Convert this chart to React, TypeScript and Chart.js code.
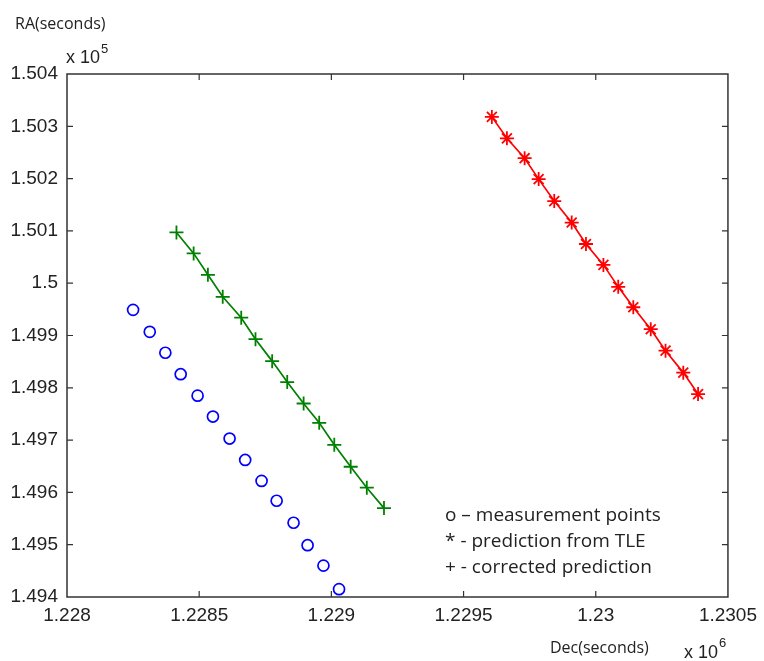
import React, { useEffect, useRef } from "react";
import { Chart, registerables } from "chart.js";

Chart.register(...registerables);

// Data (Dec seconds, RA seconds)
const measDec = [1228250, 1228313, 1228372, 1228430, 1228494, 1228552, 1228615, 1228674, 1228736, 1228793, 1228857, 1228910, 1228970, 1229029];
const measRA = [149949, 149907, 149867, 149826, 149785, 149745, 149703, 149662, 149622, 149584, 149542, 149499, 149460, 149415];

const corrDec = [1228414, 1228479, 1228533, 1228589, 1228659, 1228713, 1228776, 1228833, 1228895, 1228954, 1229011, 1229073, 1229134, 1229199];
const corrRA = [150097, 150057, 150016, 149974, 149934, 149893, 149851, 149811, 149770, 149733, 149691, 149649, 149609, 149570];

const tleDec = [1229607, 1229664, 1229731, 1229784, 1229843, 1229909, 1229963, 1230029, 1230085, 1230142, 1230208, 1230264, 1230331, 1230387];
const tleRA = [150318, 150277, 150239, 150199, 150157, 150116, 150075, 150035, 149993, 149954, 149912, 149871, 149829, 149788];

const xMin = 1228000;
const xMax = 1230500;
const xStep = 500;
const yMin = 149400;
const yMax = 150400;
const yStep = 100;

const legendLines = ["o \u2013 measurement points", "* - prediction from TLE", "+ - corrected prediction"];
const xTitle = "Dec(seconds)";
const yTitle = "RA(seconds)";

const toPts = (xs: number[], ys: number[]) => xs.map((x, i) => ({ x, y: ys[i] }));

const framePlugin = {
  id: "frame",
  afterDraw(chart: any) {
    const { ctx, chartArea } = chart;
    const { left, right, top, bottom } = chartArea;
    const xs = chart.scales.x;
    const ys = chart.scales.y;
    ctx.save();
    ctx.strokeStyle = "#333";
    ctx.lineWidth = 1.5;
    ctx.strokeRect(left, top, right - left, bottom - top);
    ctx.lineWidth = 1.2;
    const tl = 6;
    xs.ticks.forEach((t: any) => {
      const px = xs.getPixelForValue(t.value);
      if (Math.abs(px - left) < 1 || Math.abs(px - right) < 1) return;
      ctx.beginPath();
      ctx.moveTo(px, bottom);
      ctx.lineTo(px, bottom - tl);
      ctx.moveTo(px, top);
      ctx.lineTo(px, top + tl);
      ctx.stroke();
    });
    ys.ticks.forEach((t: any) => {
      const py = ys.getPixelForValue(t.value);
      if (Math.abs(py - top) < 1 || Math.abs(py - bottom) < 1) return;
      ctx.beginPath();
      ctx.moveTo(left, py);
      ctx.lineTo(left + tl, py);
      ctx.moveTo(right, py);
      ctx.lineTo(right - tl, py);
      ctx.stroke();
    });

    ctx.fillStyle = "#222";
    ctx.textBaseline = "middle";
    ctx.textAlign = "left";
    // titles
    ctx.font = "16px 'Open Sans'";
    ctx.fillText(yTitle, 15, 24);
    ctx.fillText(xTitle, 550, 648);
    // exponent markers
    ctx.font = "18px 'Liberation Sans'";
    ctx.fillText("x 10", 66, 58);
    ctx.fillText("x 10", 684, 653);
    ctx.font = "13px 'Liberation Sans'";
    ctx.fillText("5", 101, 49);
    ctx.fillText("6", 719, 643);
    // legend text
    ctx.font = "19px 'Open Sans'";
    const ly = [516, 542, 568];
    legendLines.forEach((s, i) => ctx.fillText(s, 445, ly[i]));
    ctx.restore();
  },
};

export default function App() {
  const ref = useRef<HTMLCanvasElement>(null);
  useEffect(() => {
    document.body.style.margin = "0";
    const chart = new Chart(ref.current as HTMLCanvasElement, {
      type: "scatter",
      data: {
        datasets: [
          {
            data: toPts(measDec, measRA),
            showLine: false,
            pointStyle: "circle",
            pointRadius: 5.5,
            borderColor: "#0000ff",
            backgroundColor: "rgba(0,0,0,0)",
            pointBorderWidth: 1.7,
          },
          {
            data: toPts(corrDec, corrRA),
            showLine: true,
            pointStyle: "cross",
            pointRadius: 7,
            borderColor: "#008000",
            backgroundColor: "#008000",
            borderWidth: 1.7,
            pointBorderWidth: 1.8,
          },
          {
            data: toPts(tleDec, tleRA),
            showLine: true,
            pointStyle: "star",
            pointRadius: 7,
            borderColor: "#ff0000",
            backgroundColor: "#ff0000",
            borderWidth: 1.7,
            pointBorderWidth: 1.8,
          },
        ],
      },
      options: {
        animation: false,
        responsive: false,
        layout: { padding: { top: 74, right: 34, left: 0, bottom: 0 } },
        plugins: { legend: { display: false }, tooltip: { enabled: false } },
        scales: {
          x: {
            type: "linear",
            min: xMin,
            max: xMax,
            grid: { display: false, drawTicks: false, tickLength: 0 },
            border: { display: false },
            afterFit: (s: any) => {
              s.height = 64;
            },
            ticks: {
              stepSize: xStep,
              padding: 7,
              color: "#222",
              font: { family: "'Liberation Sans'", size: 19 },
              maxRotation: 0,
              autoSkip: false,
              callback: (v: any) => parseFloat((Number(v) / 1e6).toFixed(4)).toString(),
            },
          },
          y: {
            type: "linear",
            min: yMin,
            max: yMax,
            grid: { display: false, drawTicks: false, tickLength: 0 },
            border: { display: false },
            afterFit: (s: any) => {
              s.width = 67;
            },
            ticks: {
              stepSize: yStep,
              padding: 9,
              color: "#222",
              font: { family: "'Liberation Sans'", size: 19 },
              autoSkip: false,
              callback: (v: any) => parseFloat((Number(v) / 1e5).toFixed(3)).toString(),
            },
          },
        },
      },
      plugins: [framePlugin],
    });
    return () => chart.destroy();
  }, []);
  return (
    <div style={{ position: "absolute", left: 0, top: 0, width: 764, height: 661, background: "#fff" }}>
      <canvas ref={ref} width={764} height={661} style={{ width: 764, height: 661 }} />
    </div>
  );
}
